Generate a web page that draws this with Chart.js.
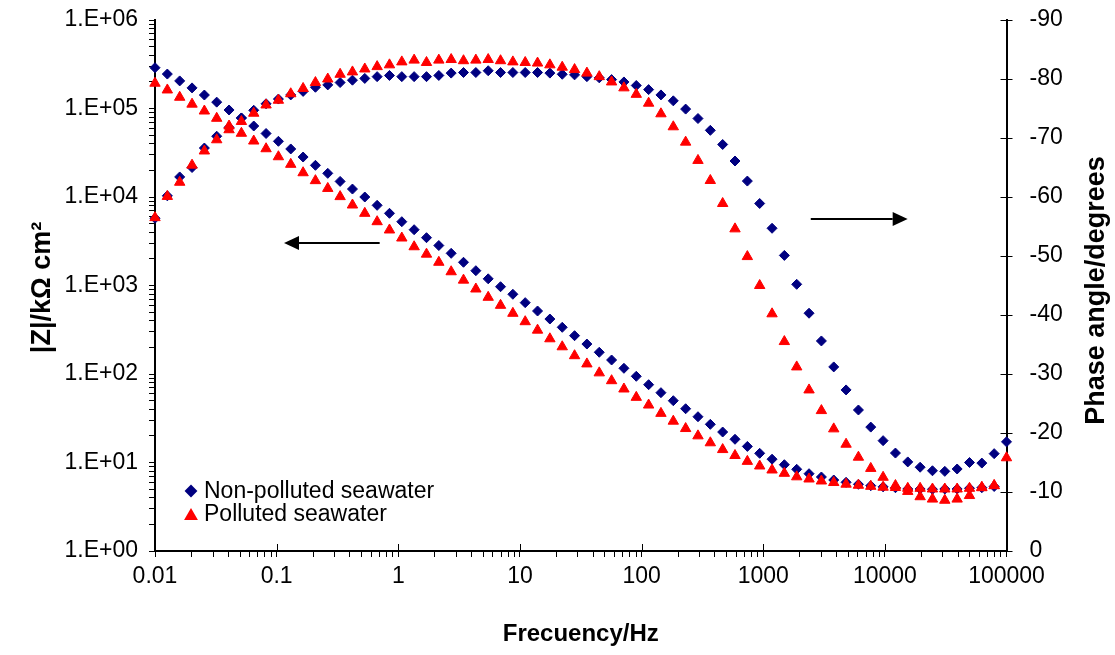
<!DOCTYPE html>
<html>
<head>
<meta charset="utf-8">
<title>Bode plot - seawater</title>
<script src="https://cdn.jsdelivr.net/npm/chart.js@4.4.0/dist/chart.umd.min.js"></script>
<style>
  html, body { margin: 0; padding: 0; background: #fff; }
  #wrap { width: 1115px; height: 655px; }
</style>
</head>
<body>
<div id="wrap"><canvas id="chart" width="1115" height="655"></canvas></div>
<script>
// frequencies in Hz (70 points, 0.01 Hz to 100 kHz)
const frequencies = [
  0.01, 0.01263, 0.01596, 0.02016, 0.02546, 0.03216, 0.04062, 0.05131, 0.06482, 0.08187,
  0.1034, 0.1306, 0.1650, 0.2084, 0.2632, 0.3325, 0.4200, 0.5305, 0.6701, 0.8464,
  1.069, 1.350, 1.706, 2.154, 2.721, 3.437, 4.342, 5.484, 6.928, 8.750,
  11.05, 13.96, 17.63, 22.27, 28.13, 35.53, 44.89, 56.70, 71.62, 90.47,
  114.3, 144.3, 182.3, 230.3, 290.9, 367.4, 464.2, 586.3, 740.6, 935.4,
  1182, 1492, 1885, 2381, 3008, 3800, 4800, 6063, 7658, 9672,
  12220, 15430, 19500, 24620, 31100, 39290, 49630, 62690, 79180, 100000
];

// |Z| in kOhm cm2
const nonPollutedZ = [
  2.89e5, 2.45e5, 2.05e5, 1.71e5, 1.42e5, 1.18e5, 9.62e4, 7.81e4, 6.34e4, 5.22e4,
  4.26e4, 3.49e4, 2.83e4, 2.28e4, 1.85e4, 1.50e4, 1.23e4, 1.00e4, 8050, 6540,
  5260, 4270, 3470, 2830, 2310, 1830, 1470, 1190, 969, 796,
  640, 515, 418, 337, 271, 218, 176, 144, 116, 94.2,
  75.7, 61.5, 49.9, 40.5, 32.9, 27.0, 22.1, 18.3, 15.2, 12.7,
  10.9, 9.44, 8.38, 7.47, 6.86, 6.34, 5.97, 5.67, 5.47, 5.31,
  5.19, 5.02, 5.02, 4.98, 5.02, 5.02, 5.11, 5.19, 5.36, null
];
const pollutedZ = [
  1.93e5, 1.62e5, 1.34e5, 1.12e5, 9.37e4, 7.75e4, 6.34e4, 5.25e4, 4.29e4, 3.51e4,
  2.85e4, 2.34e4, 1.88e4, 1.53e4, 1.25e4, 1.01e4, 8120, 6540, 5260, 4240,
  3440, 2740, 2260, 1830, 1430, 1150, 913, 736, 597, 485,
  390, 313, 250, 203, 161, 130, 103, 84.0, 67.7, 54.5,
  44.6, 35.9, 29.3, 24.2, 20.0, 16.7, 14.0, 12.0, 10.3, 9.13,
  8.23, 7.55, 6.89, 6.51, 6.18, 5.94, 5.69, 5.53, 5.38, 5.26,
  5.22, 5.11, 5.11, 5.02, 5.02, 5.02, 5.11, 5.19, 5.47, null
];

// phase angle in degrees
const nonPollutedPhase = [
  -56.4, -60.2, -63.4, -65.0, -68.3, -70.3, -71.8, -73.4, -74.7, -75.8,
  -76.6, -77.3, -77.9, -78.6, -79.0, -79.4, -79.8, -80.1, -80.4, -80.6,
  -80.4, -80.4, -80.4, -80.6, -81.0, -81.1, -81.1, -81.4, -81.1, -81.1,
  -81.1, -81.1, -81.0, -80.8, -80.7, -80.4, -80.2, -79.9, -79.5, -78.9,
  -78.2, -77.3, -76.3, -74.9, -73.3, -71.3, -68.9, -66.1, -62.7, -58.9,
  -54.7, -50.1, -45.2, -40.3, -35.6, -31.2, -27.3, -23.9, -21.0, -18.7,
  -16.6, -15.1, -14.2, -13.6, -13.5, -13.9, -15.0, -14.9, -16.5, -18.5
];
const pollutedPhase = [
  -56.5, -60.1, -62.5, -65.4, -67.8, -69.7, -71.4, -72.8, -74.2, -75.6,
  -76.4, -77.5, -78.4, -79.4, -80.0, -80.8, -81.2, -81.7, -82.1, -82.4,
  -82.9, -83.2, -82.8, -83.2, -83.3, -83.1, -83.2, -83.3, -83.1, -82.9,
  -82.8, -82.7, -82.4, -82.0, -81.6, -81.0, -80.4, -79.5, -78.5, -77.4,
  -75.9, -74.1, -71.9, -69.3, -66.2, -62.8, -58.9, -54.6, -49.9, -45.0,
  -40.2, -35.5, -31.2, -27.3, -23.8, -20.7, -18.1, -15.9, -14.0, -12.5,
  -11.1, -10.1, -9.2, -8.8, -8.6, -8.8, -9.4, -10.8, -11.1, -15.8
];

const xMajorTicks = [0.01, 0.1, 1, 10, 100, 1000, 10000, 100000];
const xTickLabels = ['0.01', '0.1', '1', '10', '100', '1000', '10000', '100000'];
const yMajorTicks = [1, 10, 100, 1000, 10000, 100000, 1000000];
const yTickLabels = ['1.E+00', '1.E+01', '1.E+02', '1.E+03', '1.E+04', '1.E+05', '1.E+06'];

const seriesNames = ['Non-polluted seawater', 'Polluted seawater'];
const xTitle = 'Frecuency/Hz';
const yTitle = '|Z|/kΩ cm²';
const y2Title = 'Phase angle/degrees';

// arrows pointing at the axis each pair of curves belongs to (data units)
const zArrow = { axis: 'y', from: [0.703, 3000], to: [0.115, 3000] };
const phaseArrow = { axis: 'y2', from: [2460, -56.3], to: [15400, -56.3] };

const FONT = "'Liberation Sans', Arial, sans-serif";
const BLUE = '#000080';
const RED = '#ff0000';

function points(values) {
  return frequencies
    .map((f, i) => ({ x: f, y: values[i] }))
    .filter(p => p.y !== null);
}

// 1..9 per decade, as in the reference's minor tick marks
function logTicks(majors) {
  const out = [];
  majors.forEach((m, i) => {
    if (i === majors.length - 1) { out.push({ value: m }); return; }
    for (let k = 1; k <= 9; k++) out.push({ value: +(m * k).toPrecision(6) });
  });
  return out;
}

function majorLabel(majors, labels, value) {
  const i = majors.findIndex(m => Math.abs(m - value) / m < 1e-6);
  return i >= 0 ? labels[i] : '';
}

function drawArrow(ctx, chart, a) {
  const xs = chart.scales.x, ys = chart.scales[a.axis];
  const x0 = xs.getPixelForValue(a.from[0]), x1 = xs.getPixelForValue(a.to[0]);
  const yy = Math.round(ys.getPixelForValue(a.from[1]));
  const dir = Math.sign(x1 - x0);
  const head = 15;
  ctx.strokeStyle = '#000';
  ctx.fillStyle = '#000';
  ctx.lineWidth = 2;
  ctx.beginPath();
  ctx.moveTo(x0, yy);
  ctx.lineTo(x1 - dir * head, yy);
  ctx.stroke();
  ctx.beginPath();
  ctx.moveTo(x1, yy);
  ctx.lineTo(x1 - dir * head, yy - 7);
  ctx.lineTo(x1 - dir * head, yy + 7);
  ctx.closePath();
  ctx.fill();
}

const decorPlugin = {
  id: 'decor',
  afterDraw(chart) {
    const { ctx, chartArea } = chart;
    const { x, y2 } = chart.scales;
    ctx.save();

    // inner half of the crossing tick marks
    ctx.strokeStyle = '#000';
    ctx.lineWidth = 1;
    ctx.beginPath();
    xMajorTicks.slice(1, -1).forEach(v => {
      const px = Math.round(x.getPixelForValue(v)) + 0.5;
      ctx.moveTo(px, chartArea.bottom);
      ctx.lineTo(px, chartArea.bottom - 7);
    });
    y2.ticks.forEach(t => {
      const py = Math.round(y2.getPixelForValue(t.value)) + 0.5;
      ctx.moveTo(chartArea.right, py);
      ctx.lineTo(chartArea.right - 6, py);
    });
    ctx.stroke();

    drawArrow(ctx, chart, zArrow);
    drawArrow(ctx, chart, phaseArrow);

    // legend inside the plot, lower left
    const styles = [
      { pointStyle: 'rectRot', radius: 5, color: BLUE },
      { pointStyle: 'triangle', radius: 6, color: RED }
    ];
    ctx.font = '23px ' + FONT;
    ctx.textBaseline = 'middle';
    ctx.textAlign = 'left';
    seriesNames.forEach((name, i) => {
      const ly = chartArea.bottom - 60 + i * 23;
      const lx = chartArea.left + 36;
      ctx.fillStyle = styles[i].color;
      ctx.strokeStyle = styles[i].color;
      Chart.helpers.drawPoint(ctx, {
        pointStyle: styles[i].pointStyle, radius: styles[i].radius, rotation: 0, borderWidth: 1
      }, lx, ly + (i === 1 ? 2 : 0));
      ctx.fillStyle = '#000';
      ctx.fillText(name, lx + 13, ly + 1);
    });

    // axis titles
    ctx.fillStyle = '#000';
    ctx.textAlign = 'center';
    ctx.textBaseline = 'middle';
    ctx.font = 'bold 24px ' + FONT;
    ctx.fillText(xTitle, (chartArea.left + chartArea.right) / 2, 634);

    ctx.font = 'bold 27px ' + FONT;
    ctx.save();
    ctx.translate(43, (chartArea.top + chartArea.bottom) / 2 + 2);
    ctx.rotate(-Math.PI / 2);
    ctx.fillText(yTitle, 0, 0);
    ctx.restore();

    ctx.save();
    ctx.translate(1097, (chartArea.top + chartArea.bottom) / 2 + 5);
    ctx.rotate(-Math.PI / 2);
    ctx.fillText(y2Title, 0, 0);
    ctx.restore();

    ctx.restore();
  }
};

const tickFont = { family: FONT, size: 23 };

function series(label, values, axis, color, style, radius, order) {
  return {
    label,
    data: points(values),
    yAxisID: axis,
    showLine: false,
    pointStyle: style,
    pointRadius: radius,
    pointBackgroundColor: color,
    pointBorderColor: color,
    pointBorderWidth: 1,
    clip: false,
    order
  };
}

// fixed box sizes so the plot area sits where the reference has it
function fitVertical(width) {
  return s => { s.width = width; s.paddingTop = 0; s.paddingBottom = 0; };
}

new Chart(document.getElementById('chart'), {
  type: 'scatter',
  data: {
    datasets: [
      series(seriesNames[0] + ' |Z|', nonPollutedZ, 'y', BLUE, 'rectRot', 5, 1),
      series(seriesNames[1] + ' |Z|', pollutedZ, 'y', RED, 'triangle', 6, 0),
      series(seriesNames[0] + ' phase', nonPollutedPhase, 'y2', BLUE, 'rectRot', 5, 1),
      series(seriesNames[1] + ' phase', pollutedPhase, 'y2', RED, 'triangle', 6, 0)
    ]
  },
  options: {
    responsive: false,
    animation: false,
    layout: { padding: { top: 20, left: 0, right: 0, bottom: 0 } },
    plugins: {
      legend: { display: false },
      tooltip: { enabled: false }
    },
    scales: {
      x: {
        type: 'logarithmic',
        position: 'bottom',
        min: 0.01,
        max: 100000,
        afterBuildTicks: s => { s.ticks = logTicks(xMajorTicks); },
        afterFit: s => { s.height = 104; s.paddingLeft = 0; s.paddingRight = 0; },
        ticks: {
          autoSkip: false,
          maxRotation: 0,
          padding: 6,
          color: '#000',
          font: tickFont,
          callback: v => majorLabel(xMajorTicks, xTickLabels, v)
        },
        grid: { drawOnChartArea: false, drawTicks: true, tickLength: 6, color: '#000' },
        border: { display: true, color: '#000', width: 2 }
      },
      y: {
        type: 'logarithmic',
        position: 'left',
        min: 1,
        max: 1000000,
        afterBuildTicks: s => { s.ticks = logTicks(yMajorTicks); },
        afterFit: fitVertical(155),
        ticks: {
          autoSkip: false,
          padding: 11,
          color: '#000',
          font: tickFont,
          callback: v => majorLabel(yMajorTicks, yTickLabels, v)
        },
        grid: { drawOnChartArea: false, drawTicks: true, tickLength: 6, color: '#000' },
        border: { display: true, color: '#000', width: 2 }
      },
      y2: {
        type: 'linear',
        position: 'right',
        min: -90,
        max: 0,
        reverse: true,
        afterFit: fitVertical(108.5),
        ticks: {
          stepSize: 10,
          padding: 17,
          color: '#000',
          font: tickFont
        },
        grid: { drawOnChartArea: false, drawTicks: true, tickLength: 6, color: '#000' },
        border: { display: true, color: '#000', width: 2 }
      }
    }
  },
  plugins: [decorPlugin]
});
</script>
</body>
</html>
